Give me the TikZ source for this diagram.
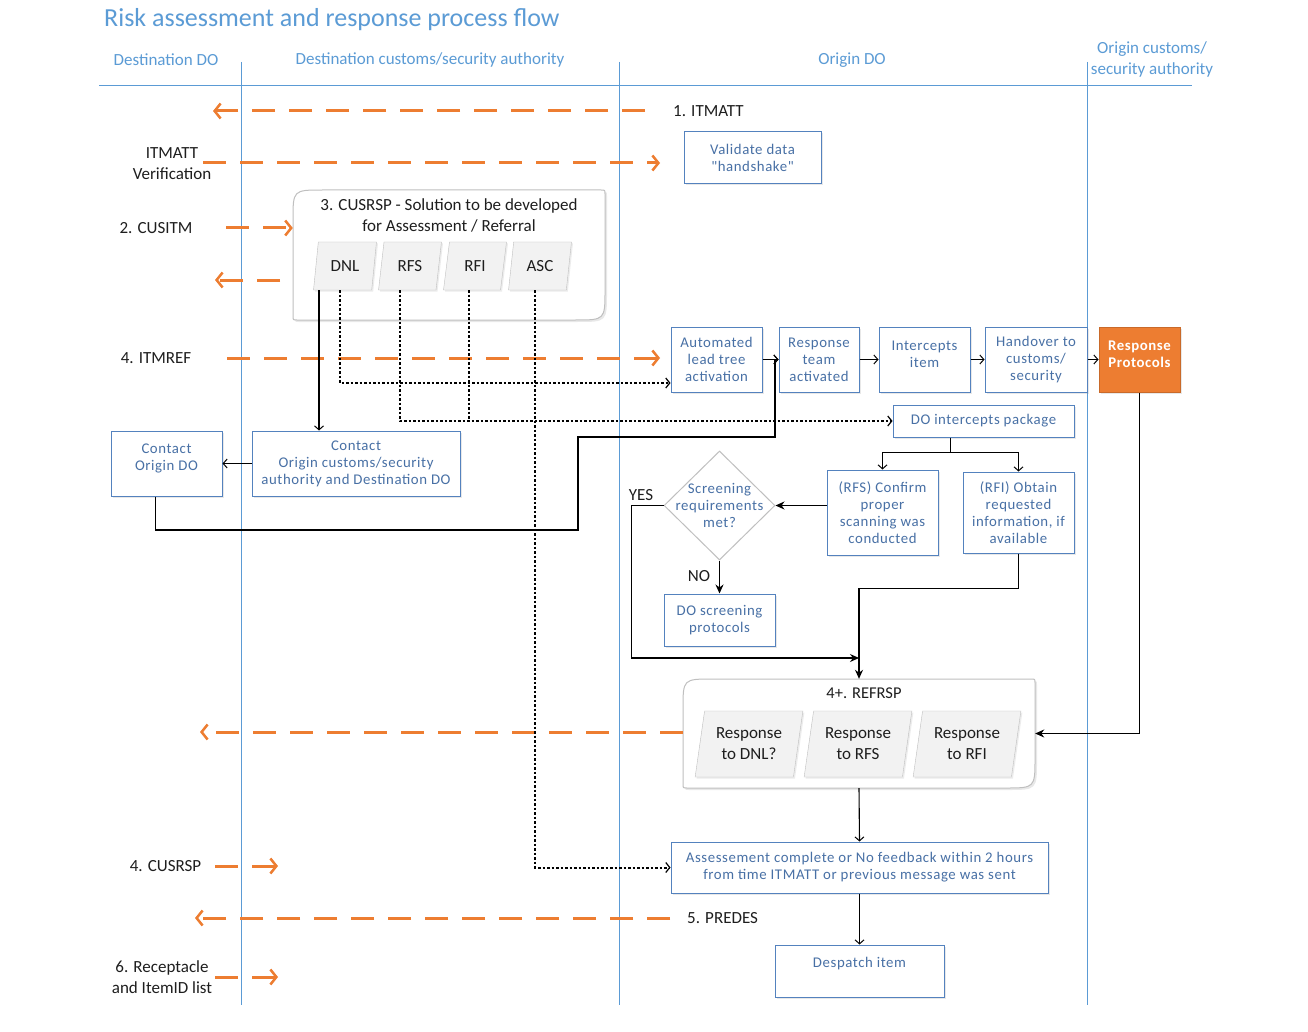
\documentclass[tikz,border=0pt]{standalone}
\usepackage{fontspec}
\setmainfont{Carlito}
\newfontfamily\boxfont[LetterSpace=4]{Carlito}
\usetikzlibrary{arrows.meta,shapes.geometric,shadows,calc}
\definecolor{lane}{RGB}{91,155,213}
\definecolor{org}{RGB}{237,125,49}
\definecolor{bxline}{RGB}{84,130,190}
\definecolor{bxtext}{RGB}{72,112,165}
\definecolor{para}{RGB}{242,242,242}
\definecolor{paraline}{RGB}{191,191,191}
\definecolor{ink}{RGB}{30,30,30}
\tikzset{
  lanel/.style={draw=lane, line width=1pt},
  lanetxt/.style={text=lane, font=\fontsize{17}{21}\selectfont, align=center, inner sep=0pt},
  box/.style={draw=bxline, line width=1pt, fill=white, text=bxtext, align=center,
    font=\boxfont\fontsize{14.8}{17}\selectfont, inner sep=2pt,
    drop shadow={opacity=0.18, shadow xshift=1.5pt, shadow yshift=-1.5pt}},
  hotbox/.style={box, fill=org, draw=org!85!black, text=white, font=\boxfont\bfseries\fontsize{14.8}{17}\selectfont},
  cont/.style={draw=paraline, line width=1pt, fill=white,
    drop shadow={opacity=0.18, shadow xshift=2pt, shadow yshift=-2pt}},
  para/.style={trapezium, trapezium left angle=78, trapezium right angle=102,
    trapezium stretches=true, draw=paraline, fill=para, text=ink, align=center,
    font=\fontsize{17}{21}\selectfont, inner sep=1pt,
    drop shadow={opacity=0.15, shadow xshift=1.5pt, shadow yshift=-1.5pt}},
  lbl/.style={text=ink, font=\fontsize{17}{21}\selectfont, align=center, inner sep=0pt},
  msg/.style={draw=org, line width=3pt, dash pattern=on 23pt off 14pt,
    -{Straight Barb[length=6pt,width=15pt,line width=2.5pt]}},
  flow/.style={draw=black, line width=1.1pt, -{Straight Barb[length=4pt,width=9pt,line width=1pt]}},
  flowf/.style={draw=black, line width=1.1pt, -{Stealth[length=9pt,width=8pt]}},
  dotl/.style={draw=black, line width=2pt, dash pattern=on 2.5pt off 2pt},
  dota/.style={dotl, -{Straight Barb[length=4pt,width=10pt,line width=1.2pt]}},
}
\begin{document}
\begin{tikzpicture}[x=1pt,y=-1pt]
\useasboundingbox[fill=white] (0,0) rectangle (1308,1032);

% title and lanes
\node[anchor=west, text=lane, font=\fontsize{26}{30}\selectfont, inner sep=0pt] (title) at (104,20) {Risk assessment and response process flow};
\node[lanetxt] (h1) at (166,60) {Destination DO};
\node[lanetxt] (h2) at (430,60) {Destination customs/security authority};
\node[lanetxt] (h3) at (852,60) {Origin DO};
\node[lanetxt] (h4) at (1152,59.5) {Origin customs/\\security authority};
\draw[lanel] (99,86) -- (1192,86);
\draw[lanel] (241,62) -- (241,1005);
\draw[lanel] (619,62) -- (619,1005);
\draw[lanel] (1087,62) -- (1087,1005);

% containers
\filldraw[cont] (323,190) -- (601,190) .. controls (605,190) .. (605,194) -- (605,290)
  .. controls (605,320) .. (575,320) -- (297,320) .. controls (293,320) .. (293,316)
  -- (293,220) .. controls (293,190) .. (323,190) -- cycle;
\node[inner sep=0pt, minimum width=312pt, minimum height=130pt] (cus) at (449,255) {};
\node[lbl] (cusT) at (449,215.5) {3. CUSRSP - Solution to be developed\\for Assessment / Referral};

\filldraw[cont] (713,679) -- (1031,679) .. controls (1035,679) .. (1035,683) -- (1035,758)
  .. controls (1035,788) .. (1005,788) -- (687,788) .. controls (683,788) .. (683,784)
  -- (683,709) .. controls (683,679) .. (713,679) -- cycle;
\node[inner sep=0pt, minimum width=352pt, minimum height=109pt] (ref) at (859,733.5) {};
\node[lbl, font=\fontsize{16.5}{20}\selectfont] (refT) at (864,693) {4+. REFRSP};

% parallelograms
\node[para, minimum width=63pt, minimum height=48pt] (pdnl) at (345,266) {DNL};
\node[para, minimum width=63pt, minimum height=48pt] (prfs) at (410,266) {RFS};
\node[para, minimum width=63pt, minimum height=48pt] (prfi) at (475,266) {RFI};
\node[para, minimum width=63pt, minimum height=48pt] (pasc) at (540,266) {ASC};
\node[para, minimum width=108pt, minimum height=66pt] (rdnl) at (749,744) {Response\\to DNL?};
\node[para, minimum width=108pt, minimum height=66pt] (rrfs) at (858,744) {Response\\to RFS};
\node[para, minimum width=108pt, minimum height=66pt] (rrfi) at (967,744) {Response\\to RFI};

% boxes
\node[box, minimum width=137pt, minimum height=52pt] (vd) at (752.5,158) {Validate data\\"handshake"};
\node[box, minimum width=91pt, minimum height=65pt] (alt) at (716.5,359.5) {Automated\\lead tree\\activation};
\node[box, minimum width=80pt, minimum height=65pt] (rta) at (819,359.5) {Response\\team\\activated};
\node[box, minimum width=91pt, minimum height=65pt] (ii) at (924.5,359.5) {Intercepts\\item\\[-6pt]};
\node[box, minimum width=102pt, minimum height=65pt] (hov) at (1036,359.5) {Handover to\\customs/\\security};
\node[hotbox, minimum width=81pt, minimum height=65pt] (rp) at (1139.5,359.5) {Response\\Protocols\\[-6pt]};
\node[box, minimum width=181pt, minimum height=32pt] (dip) at (983.5,421) {DO intercepts package};
\node[box, minimum width=111pt, minimum height=85pt] (rfs) at (882.5,512.5) {(RFS) Confirm\\proper\\scanning was\\conducted};
\node[box, minimum width=111pt, minimum height=81pt] (rfi) at (1018.5,512.5) {(RFI) Obtain\\requested\\information, if\\available};
\node[diamond, aspect=1, draw=black!25, line width=1pt, fill=white, inner sep=0pt,
  minimum width=111pt, minimum height=109pt,
  label={[text=bxtext, align=center, font=\boxfont\fontsize{14.8}{17}\selectfont]center:Screening\\requirements\\met?}] (dia) at (719.5,505.5) {};
\node[box, minimum width=111pt, minimum height=52pt] (dsp) at (719.5,620) {DO screening\\protocols};
\node[box, minimum width=111pt, minimum height=65pt] (cod) at (166.5,463.5) {Contact\\Origin DO\\[-4pt]};
\node[box, minimum width=208pt, minimum height=65pt] (coc) at (356,463.5) {Contact\\Origin customs/security\\authority and Destination DO};
\node[box, minimum width=377pt, minimum height=51pt] (ac) at (859.5,867.5) {Assessement complete or No feedback within 2 hours\\from time ITMATT or previous message was sent};
\node[box, minimum width=169pt, minimum height=52pt] (di) at (859.5,971) {Despatch item\\ \mbox{}};

% labels
\node[lbl, anchor=west] (m1) at (673,111) {1. ITMATT};
\node[lbl] (m2) at (172,163.5) {ITMATT\\Verification};
\node[lbl] (m3) at (156,228) {2. CUSITM};
\node[lbl] (m4) at (156,358) {4. ITMREF};
\node[lbl] (m5) at (165.5,866) {4. CUSRSP};
\node[lbl, anchor=west] (m6) at (687,918) {5. PREDES};
\node[lbl] (m7) at (162,977) {6. Receptacle\\and ItemID list};
\node[lbl] (yes) at (641,495) {YES};
\node[lbl] (no) at (699,576) {NO};

% orange message arrows
\coordinate (a1) at (213,111);
\coordinate (a2) at (660,163);
\coordinate (a4) at (215,280);
\coordinate (a5) at (660,358);
\coordinate (a6) at (200,732);
\coordinate (a7) at (278,866);
\coordinate (a8) at (195,918);
\coordinate (a9) at (278,977);
\draw[msg] (645,111) -- (a1);
\draw[msg] (203,163) -- (a2);
\draw[msg] (226,228) -- (cus.west |- m3);
\draw[msg] (280,280) -- (a4);
\draw[msg] (227,358) -- (a5);
\draw[msg] (ref.west |- a6) -- (a6);
\draw[msg] (215,866) -- (a7);
\draw[msg] (670,918) -- (a8);
\draw[msg] (215,977) -- (a9);

% dotted connectors
\draw[dota] ([xshift=-5pt]pdnl.south) |- ([yshift=-23.5pt]alt.west);
\draw[dota] ([xshift=-10pt]prfs.south) |- (dip.west);
\draw[dotl] ([xshift=-6pt]prfi.south) -- ([xshift=-6pt]prfi.south |- dip.west);
\draw[dota] ([xshift=-5pt]pasc.south) |- (ac.west);

% solid connectors
\draw[flow] ([xshift=-26pt]pdnl.south) -- ([xshift=-26pt]pdnl.south |- coc.north);
\draw[flow] (coc.west) -- (cod.east);
\draw[flow] ([xshift=-11pt]cod.south) |- (578,530) |- (775,437) |- (rta.west);
\draw[flow] (alt.east) -- (rta.west);
\draw[flow] (rta.east) -- (ii.west);
\draw[flow] (ii.east) -- (hov.west);
\draw[flow] (hov.east) -- (rp.west);
\draw[flowf] (rp.south) |- (ref.east);
\draw[line width=1.1pt] ([xshift=-33pt]dip.south) -- ++(0,15) coordinate (dj);
\draw[flow] (dj) -| (rfs.north);
\draw[flow] (dj) -| (rfi.north);
\draw[flowf] (rfs.west |- dia.east) -- (dia.east);
\draw[flowf] (dia.south) -- (dsp.north);
\coordinate (mj) at (ref.north |- 0,658);
\draw[flowf] (dia.west) -- ++(-32,0) |- (mj);
\draw[flowf] (rfi.south) -- ++(0,35) -| (ref.north);
\draw[flow] (ref.south) -- (ac.north);
\draw[flow] (ac.south) -- (di.north);
\end{tikzpicture}
\end{document}
